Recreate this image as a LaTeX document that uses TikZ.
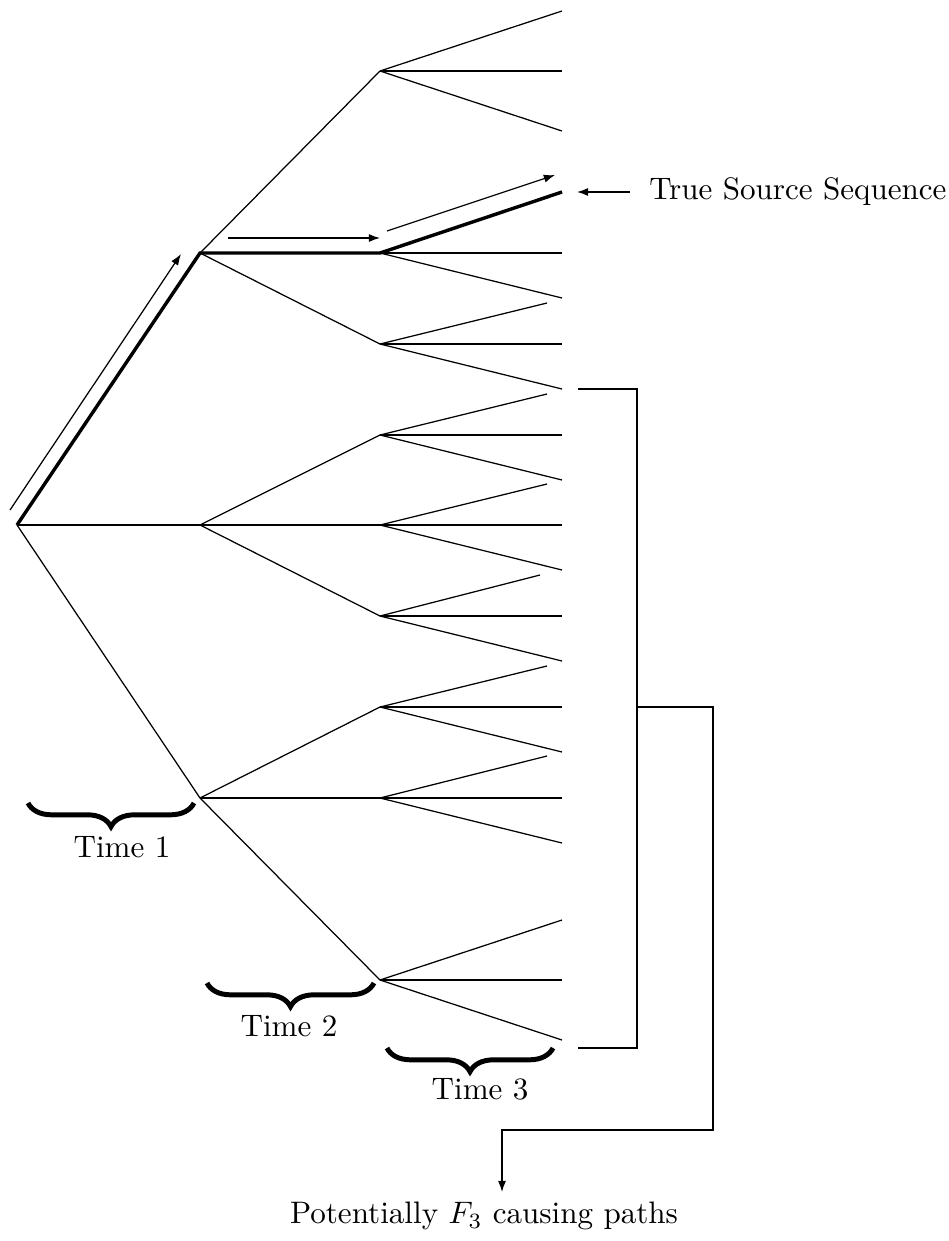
\documentclass[tikz,border=0pt]{standalone}
\usetikzlibrary{arrows.meta, calc, decorations.pathreplacing}

\begin{document}
\begin{tikzpicture}[
    x=0.0113cm, y=-0.0113cm,
    edge/.style={line width=0.4pt, black},
    truepath/.style={line width=1.1pt, black},
    arr/.style={-{Latex[length=3.6pt, width=2.6pt]}, line width=0.4pt},
    timebrace/.style={decorate, decoration={brace, mirror, amplitude=7.6pt},
                      line width=1.6pt},
]
\useasboundingbox (0,0) rectangle (949,1241);

% Root and time 1
\coordinate (root) at (17,525);
\coordinate (a1) at (200,253);
\coordinate (a2) at (200,525);
\coordinate (a3) at (200,798);

% Time 2
\foreach \n/\y in {b1/71, b2/253, b3/344, b4/435, b5/525, b6/616, b7/707, b8/798, b9/980}
    \coordinate (\n) at (380,\y);

% Time 3 leaves
\foreach \n/\ux/\uy/\fy/\dy in {b1/562/11/71/131, b2/562/192/253/298,
        b3/547/303/344/389, b4/547/394/435/480, b5/547/484/525/570,
        b6/540/575/616/661, b7/547/666/707/752, b8/547/756/798/843,
        b9/562/920/980/1040}{
    \coordinate (\n-u) at (\ux,\uy);
    \coordinate (\n-f) at (562,\fy);
    \coordinate (\n-d) at (562,\dy);
    \draw[edge] (\n) -- (\n-f);
    \draw[edge] (\n) -- (\n-d);
}
\foreach \n in {b1,b3,b4,b5,b6,b7,b8,b9}
    \draw[edge] (\n) -- (\n-u);

% Tree edges
\draw[edge] (root) -- (a2);
\draw[edge] (root) -- (a3);
\draw[edge] (a1) -- (b1);
\draw[edge] (a1) -- (b3);
\draw[edge] (a2) -- (b4);
\draw[edge] (a2) -- (b5);
\draw[edge] (a2) -- (b6);
\draw[edge] (a3) -- (b7);
\draw[edge] (a3) -- (b8);
\draw[edge] (a3) -- (b9);

% True path
\draw[truepath] (root) -- (a1) -- (b2) -- (b2-u);

% Arrows along true path
\coordinate (s1) at (10,510);
\coordinate (e1) at (181,254);
\coordinate (s2) at (228,238);
\coordinate (e2) at (380,238);
\coordinate (s3) at (387,231);
\coordinate (e3) at (555,175);
\draw[arr] (s1) -- (e1);
\draw[arr] (s2) -- (e2);
\draw[arr] (s3) -- (e3);

% True source label
\node[anchor=west, inner xsep=6pt] (ts) at (630,192) {True Source Sequence};
\coordinate (tsend) at (577,192);
\draw[arr] (ts.west) -- (tsend);

% Bracket of F3 paths
\coordinate (k1) at (578,389);
\coordinate (k2) at (578,1048);
\coordinate (kmid) at (637,707);
\coordinate (kr) at (713,1130);
\coordinate (kend) at (502,1192);
\draw[edge] (k1) -| (kmid) |- (k2);
\draw[arr] (kmid) -| (kr) -| (kend);
\node (pot) at (484,1216) {Potentially $F_3$ causing paths};

% Time braces
\coordinate (br1a) at (28,803);
\coordinate (br1b) at (194,803);
\coordinate (br2a) at (207,983);
\coordinate (br2b) at (374,983);
\coordinate (br3a) at (387,1048);
\coordinate (br3b) at (553,1048);
\draw[timebrace] (br1a) -- (br1b);
\draw[timebrace] (br2a) -- (br2b);
\draw[timebrace] (br3a) -- (br3b);
\node (t1) at (122,847) {Time 1};
\node (t2) at (289,1026) {Time 2};
\node (t3) at (480,1089) {Time 3};

\end{tikzpicture}
\end{document}
